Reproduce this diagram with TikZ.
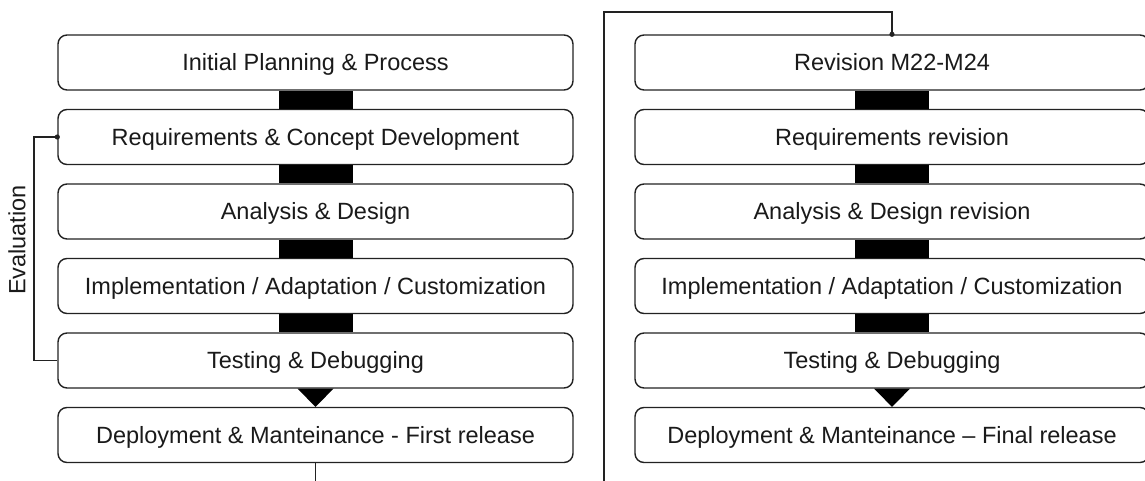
\documentclass[tikz,border=0pt]{standalone}
\usepackage{fontspec}
\setmainfont{Liberation Sans}
\usetikzlibrary{calc}
\definecolor{edge}{HTML}{222222}
\definecolor{ink}{HTML}{1A1A1A}
\begin{document}
\begin{tikzpicture}[x=1pt,y=-1pt,
  lbl/.style={font=\fontsize{23.5}{26}\selectfont,text=ink},
  stage/.style={lbl,draw=edge,line width=1.4pt,rounded corners=9pt,fill=white,
    minimum height=55pt,inner sep=0pt,text height=16.5pt,text depth=0pt},
  lstage/.style={stage,minimum width=515pt},
  rstage/.style={stage,minimum width=514pt},
  link/.style={draw=edge,line width=1.2pt},
  bar/.style={fill=black}]
\useasboundingbox (0,0) rectangle (1145,481);

% left column
\node[lstage] (a) at (315.5,62.5)  {Initial Planning \& Process};
\node[lstage] (b) at (315.5,137)   {Requirements \& Concept Development};
\node[lstage] (c) at (315.5,211.5) {Analysis \& Design};
\node[lstage] (d) at (315.5,286)   {Implementation / Adaptation / Customization};
\node[lstage] (e) at (315.5,360.5) {Testing \& Debugging};
\node[lstage] (f) at (315.5,435)   {Deployment \& Manteinance - First release};

% right column
\node[rstage] (g) at (892,62.5)  {Revision M22-M24};
\node[rstage] (h) at (892,137)   {Requirements revision};
\node[rstage] (i) at (892,211.5) {Analysis \& Design revision};
\node[rstage] (j) at (892,286)   {Implementation / Adaptation / Customization};
\node[rstage] (k) at (892,360.5) {Testing \& Debugging};
\node[rstage] (l) at (892,435)   {Deployment \& Manteinance – Final release};

% black bars between consecutive stages
\foreach \p/\q in {a/b,b/c,c/d,d/e,g/h,h/i,i/j,j/k}
  \fill[bar] ([xshift=-37pt]\p.south) rectangle ([xshift=37pt]\q.north);

% arrow heads into the release stages
\fill[bar] ([xshift=-18pt]e.south) -- ([xshift=18pt]e.south) -- (f.north) -- cycle;
\fill[bar] ([xshift=-18pt]k.south) -- ([xshift=18pt]k.south) -- (l.north) -- cycle;

% evaluation feedback loop
\coordinate (ev) at (34,360.5);
\draw[link] (e.west) -- (ev) |- (b.west);
\fill[edge] (b.west) circle (2.6pt);
\node[lbl,rotate=90] (evl) at (17,240) {Evaluation};

% hand-over from first release to revision
\coordinate (down) at (315.5,481);
\coordinate (riseb) at (604,481);
\coordinate (riset) at (604,12);
\coordinate (over) at (892,12);
\draw[link] (f.south) -- (down);
\draw[link] (riseb) -- (riset) -- (over) -- (g.north);
\fill[edge] (g.north) circle (2.6pt);
\end{tikzpicture}
\end{document}
